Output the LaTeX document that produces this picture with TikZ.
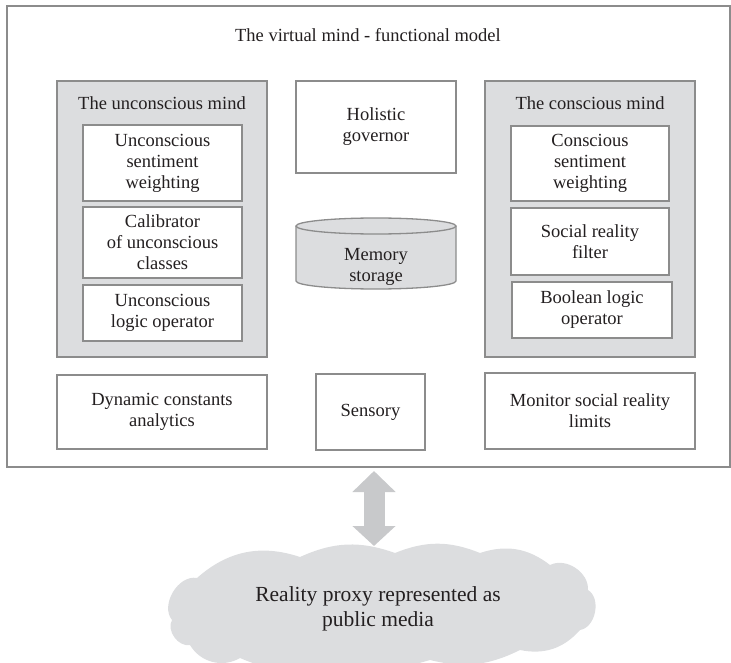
\documentclass[tikz,border=0pt]{standalone}
\usepackage{fontspec}
\setmainfont{Liberation Serif}
\usetikzlibrary{arrows.meta,calc}
\definecolor{edge}{HTML}{8C8C8C}
\definecolor{panel}{HTML}{DCDDDF}
\definecolor{ink}{HTML}{231F20}
\definecolor{arrowgrey}{HTML}{C8C9CB}

\begin{document}
\begin{tikzpicture}[x=1pt,y=-1pt,
  every node/.style={font=\fontsize{18.5}{21}\selectfont, text=ink, align=center,
                     inner sep=0pt, outer sep=0pt},
  box/.style={draw=edge, line width=1.3pt, fill=white},
  panelbox/.style={draw=edge, line width=1.3pt, fill=panel},
  bigarrow/.style={draw=arrowgrey, line width=21pt,
                   {Triangle[width=42pt,length=21pt]}-{Triangle[width=42pt,length=20pt]}},
]
\useasboundingbox (0,0) rectangle (731,663);

% outer frame and its heading
\node[draw=edge, line width=1.3pt, minimum width=723pt, minimum height=461pt] (frame) at (368.5,236.5) {};
\node (title) at (368,35) {The virtual mind - functional model};

% unconscious panel
\node[panelbox, minimum width=210pt, minimum height=276pt] (upanel) at (162,219) {};
\node (utitle) at (162,103) {The unconscious mind};
\node[box, minimum width=159pt, minimum height=76pt] (u1) at (162.5,163) {Unconscious\\sentiment\\weighting};
\node[box, minimum width=159pt, minimum height=71pt] (u2) at (162.5,242.5) {Calibrator\\of unconscious\\classes};
\node[box, minimum width=159pt, minimum height=56pt] (u3) at (162.5,313) {Unconscious\\logic operator};

% centre column
\node[box, minimum width=160pt, minimum height=92pt] (hol) at (376,127) {Holistic\\governor};
\fill[panel] (296,226) -- (296,281) arc[start angle=180, end angle=0, x radius=80, y radius=8] -- (456,226) -- cycle;
\draw[edge, line width=1.3pt] (296,226) -- (296,281) arc[start angle=180, end angle=0, x radius=80, y radius=8] -- (456,226);
\draw[edge, line width=1.3pt, fill=panel] (376,226) ellipse[x radius=80, y radius=8];
\node (mem) at (376,267) {Memory\\storage};

% conscious panel
\node[panelbox, minimum width=210pt, minimum height=276pt] (cpanel) at (590,219) {};
\node (ctitle) at (590,103) {The conscious mind};
\node[box, minimum width=158pt, minimum height=75pt] (c1) at (590,163.5) {Conscious\\sentiment\\weighting};
\node[box, minimum width=158pt, minimum height=67pt] (c2) at (590,241.5) {Social reality\\filter};
\node[box, minimum width=160pt, minimum height=56pt] (c3) at (592,310) {Boolean logic\\operator};

% bottom row
\node[box, minimum width=210pt, minimum height=74pt] (dyn) at (162,412) {Dynamic constants\\analytics};
\node[box, minimum width=109pt, minimum height=76pt] (sens) at (370.5,412) {Sensory};
\node[box, minimum width=210pt, minimum height=76pt] (mon) at (590,411) {Monitor social reality\\limits};

% public media cloud, a ring of shallow puffs with side lobes
\fill[panel] (197,578)
  to[bend left=30] (300,557)
  to[bend left=22] (395,553)
  to[bend left=22] (480,553)
  to[bend left=28] (550,565)
  to[bend left=60] (588,590)
  to[bend left=70] (580,630)
  to[bend left=30] (520,650)
  to[bend left=20] (430,660)
  to[bend left=15] (330,663)
  to[bend left=20] (240,658)
  to[bend left=45] (190,645)
  to[bend left=65] (172,620)
  to[bend left=70] cycle;
\node[font=\fontsize{21.5}{25}\selectfont] (cloud) at (378,609)
  {Reality proxy represented as\\public media};
\coordinate (cloudtop) at (374,553);

% two-way link between the model and the cloud
\coordinate (link) at (374,0);
\draw[bigarrow, shorten <=4pt, shorten >=7pt] (frame.south -| link) -- (cloudtop);
\end{tikzpicture}
\end{document}
